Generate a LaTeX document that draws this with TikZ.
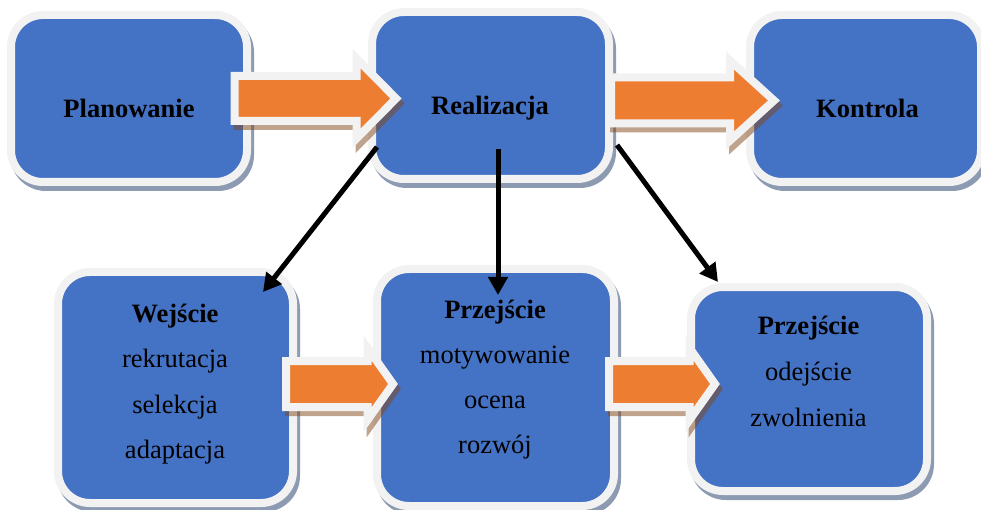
\documentclass[tikz,border=0pt]{standalone}
\usepackage{fontspec}
\setmainfont{Liberation Serif}
\usetikzlibrary{arrows.meta}

\definecolor{boxblue}{RGB}{68,114,196}
\definecolor{rimgray}{RGB}{242,242,242}
\definecolor{shadowblue}{RGB}{140,154,178}
\definecolor{arroworange}{RGB}{237,125,49}
\definecolor{arrowshade}{RGB}{130,72,28}

\tikzset{
  stagebox/.style={
    rectangle, rounded corners=32pt, inner sep=0pt, outer sep=0pt,
    fill=boxblue, draw=rimgray, line width=8pt,
    preaction={draw=shadowblue, fill=shadowblue, line width=8pt,
               transform canvas={shift={(3pt,-5pt)}}}},
  flowlink/.style={line width=5pt, -{Triangle[length=18pt,width=19pt]}},
  arrowbody/.style={draw=rimgray, fill=arroworange, line width=8pt, line join=miter},
  arrowshadow/.style={draw=arrowshade, fill=arrowshade, line width=8pt, line join=miter},
  txt/.style={anchor=base, inner sep=0pt, font=\fontsize{26.5}{30}\selectfont},
  btxt/.style={txt, font=\fontsize{26.5}{30}\selectfont\bfseries},
}

% block arrow: start x, head base x, tip x, centre y, shaft half height, head half height
\newcommand\blockarrow[6]{%
  \begin{scope}[transparency group, opacity=0.5]
    \path[arrowshadow, shift={(3,5)}]
      (#1,#4-#5) -- (#2,#4-#5) -- (#2,#4-#6) -- (#3,#4) -- (#2,#4+#6)
      -- (#2,#4+#5) -- (#1,#4+#5) -- cycle;
  \end{scope}
  \path[arrowbody]
    (#1,#4-#5) -- (#2,#4-#5) -- (#2,#4-#6) -- (#3,#4) -- (#2,#4+#6)
    -- (#2,#4+#5) -- (#1,#4+#5) -- cycle;
}

\begin{document}
\begin{tikzpicture}[x=1pt, y=-1pt]
  \useasboundingbox (0,0) rectangle (981,510);

  % stages
  \node[stagebox, minimum width=236pt, minimum height=167pt] (plan) at (129,98.5) {};
  \node[stagebox, minimum width=237pt, minimum height=167pt] (real) at (490.5,95.5) {};
  \node[stagebox, minimum width=231pt, minimum height=167pt] (kontr) at (865.5,98.5) {};
  \node[stagebox, minimum width=235pt, minimum height=231pt] (wej) at (175.5,387.5) {};
  \node[stagebox, minimum width=237pt, minimum height=237pt] (przej) at (495.5,387.5) {};
  \node[stagebox, minimum width=236pt, minimum height=204pt] (odej) at (809,389) {};

  % links from Realizacja to the lower stages
  \coordinate (ra) at (377,147);
  \coordinate (rb) at (498,149);
  \coordinate (rc) at (617,145);
  \coordinate (wa) at (263,292);
  \coordinate (pb) at (498,295);
  \coordinate (oc) at (718,282);
  \draw[flowlink] (ra) -- (wa);
  \draw[flowlink] (rb) -- (pb);
  \draw[flowlink] (rc) -- (oc);

  % block arrows
  \blockarrow{234.5}{356.5}{396}{98.5}{22.5}{40}
  \blockarrow{611}{730}{774}{100.5}{23}{40}
  \blockarrow{286}{367.5}{393}{384}{23}{36}
  \blockarrow{609}{689.5}{715}{384}{23}{36}

  % labels
  \node[btxt] (tplan) at (129,118) {Planowanie};
  \node[btxt] (treal) at (490,115) {Realizacja};
  \node[btxt] (tkontr) at (867.5,118) {Kontrola};

  \node[btxt] (twej) at (175,322) {Wejście};
  \node[txt] (twa) at (175,367) {rekrutacja};
  \node[txt] (twb) at (175,413) {selekcja};
  \node[txt] (twc) at (175,458) {adaptacja};

  \node[btxt] (tprz) at (495,318) {Przejście};
  \node[txt] (tpa) at (495,363) {motywowanie};
  \node[txt] (tpb) at (495,408) {ocena};
  \node[txt] (tpc) at (495,453) {rozwój};

  \node[btxt] (todej) at (808.5,334) {Przejście};
  \node[txt] (toa) at (808.5,380) {odejście};
  \node[txt] (tob) at (808.5,426) {zwolnienia};
\end{tikzpicture}
\end{document}
